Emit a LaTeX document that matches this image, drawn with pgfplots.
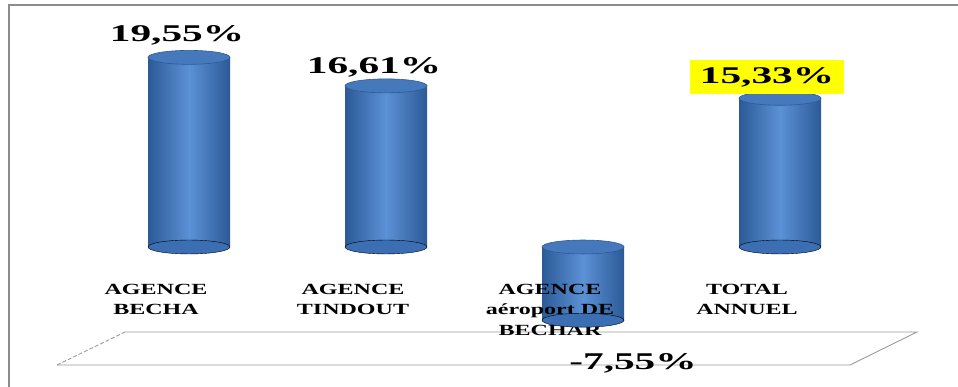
\documentclass[border=0pt]{standalone}
\usepackage{pgfplots}
\pgfplotsset{compat=1.18}
\usepackage{fontspec}
\setmainfont{Liberation Serif}
\newfontfamily\labfont[FakeStretch=1.55]{Liberation Serif}
\newfontfamily\numfont[FakeStretch=1.72]{Liberation Serif}
\definecolor{barD}{HTML}{2C5A97}
\definecolor{barL}{HTML}{5B91D6}
\definecolor{barM}{HTML}{3B6EB2}
\definecolor{capC}{HTML}{4678BC}
\definecolor{frameC}{HTML}{8C8C8C}
\definecolor{floorC}{HTML}{9A9A9A}
\definecolor{hl}{HTML}{FFFF00}
\begin{document}
\begin{tikzpicture}[x=1pt,y=1pt]
\useasboundingbox (0,0) rectangle (958,387);
% frame
\draw[frameC, line width=1.6pt] (9,0) -- (9,382) -- (958,382);
% floor
\draw[floorC, line width=0.9pt] (125,55) -- (917,55) -- (850,22) -- (57,22);
\draw[floorC, line width=0.9pt, dashed, dash pattern=on 4pt off 2pt] (57,22) -- (125,55);
\begin{axis}[
  at={(189pt,140pt)}, anchor=origin,
  x=197pt, y=9.7pt,
  xmin=-0.5, xmax=3.5, ymin=-8, ymax=21,
  clip=false,
  axis on top,
  axis line style={draw=none},
  major tick length=0pt,
  ytick=\empty,
  xtick={0,1,2,3},
  xticklabels={{AGENCE\\BECHA},{AGENCE\\TINDOUT},{AGENCE\\aéroport DE\\BECHAR},{TOTAL\\ANNUEL}},
  xticklabel style={align=center, anchor=north, yshift=44pt, xshift=-33pt,
    font=\labfont\bfseries\fontsize{15.5}{20.5}\selectfont},
  barsty/.style={ybar, bar width=82pt, bar shift=0pt, draw=none,
    left color=barD, right color=barD, middle color=barL},
]
% bottom ellipses
\addplot[only marks, mark=*, mark size=41pt,
  mark options={yscale=0.17, draw=none, fill=barM}]
  coordinates {(0,0) (1,0) (2,-7.55) (3,0)};
% bars (one plot per bar so each gets its own shading)
\addplot[barsty] coordinates {(0,19.55)};
\addplot[barsty] coordinates {(1,16.61)};
\addplot[barsty] coordinates {(2,-7.55)};
\addplot[barsty] coordinates {(3,15.33)};
% top ellipses
\addplot[only marks, mark=*, mark size=41pt,
  mark options={yscale=0.17, draw=barD, line width=0.6pt, fill=capC}]
  coordinates {(0,19.55) (1,16.61) (2,0) (3,15.33)};
% data labels
\addplot[draw=none, mark=none, nodes near coords, point meta=explicit symbolic,
  every node near coord/.append style={anchor=center,
    font=\numfont\bfseries\fontsize{24}{28}\selectfont, text=black},
  coordinate style/.condition={x==0}{xshift=-12pt, yshift=22pt},
  coordinate style/.condition={x==1}{xshift=-12pt, yshift=18pt},
  coordinate style/.condition={x==2}{xshift=50pt, yshift=-43pt},
  coordinate style/.condition={x==3}{xshift=-13pt, yshift=21pt, fill=hl, inner xsep=10pt, inner ysep=7pt},
  ]
  coordinates {(0,19.55) [19,55\%] (1,16.61) [16,61\%] (2,-7.55) [-7,55\%] (3,15.33) [15,33\%]};
\end{axis}
\end{tikzpicture}
\end{document}
